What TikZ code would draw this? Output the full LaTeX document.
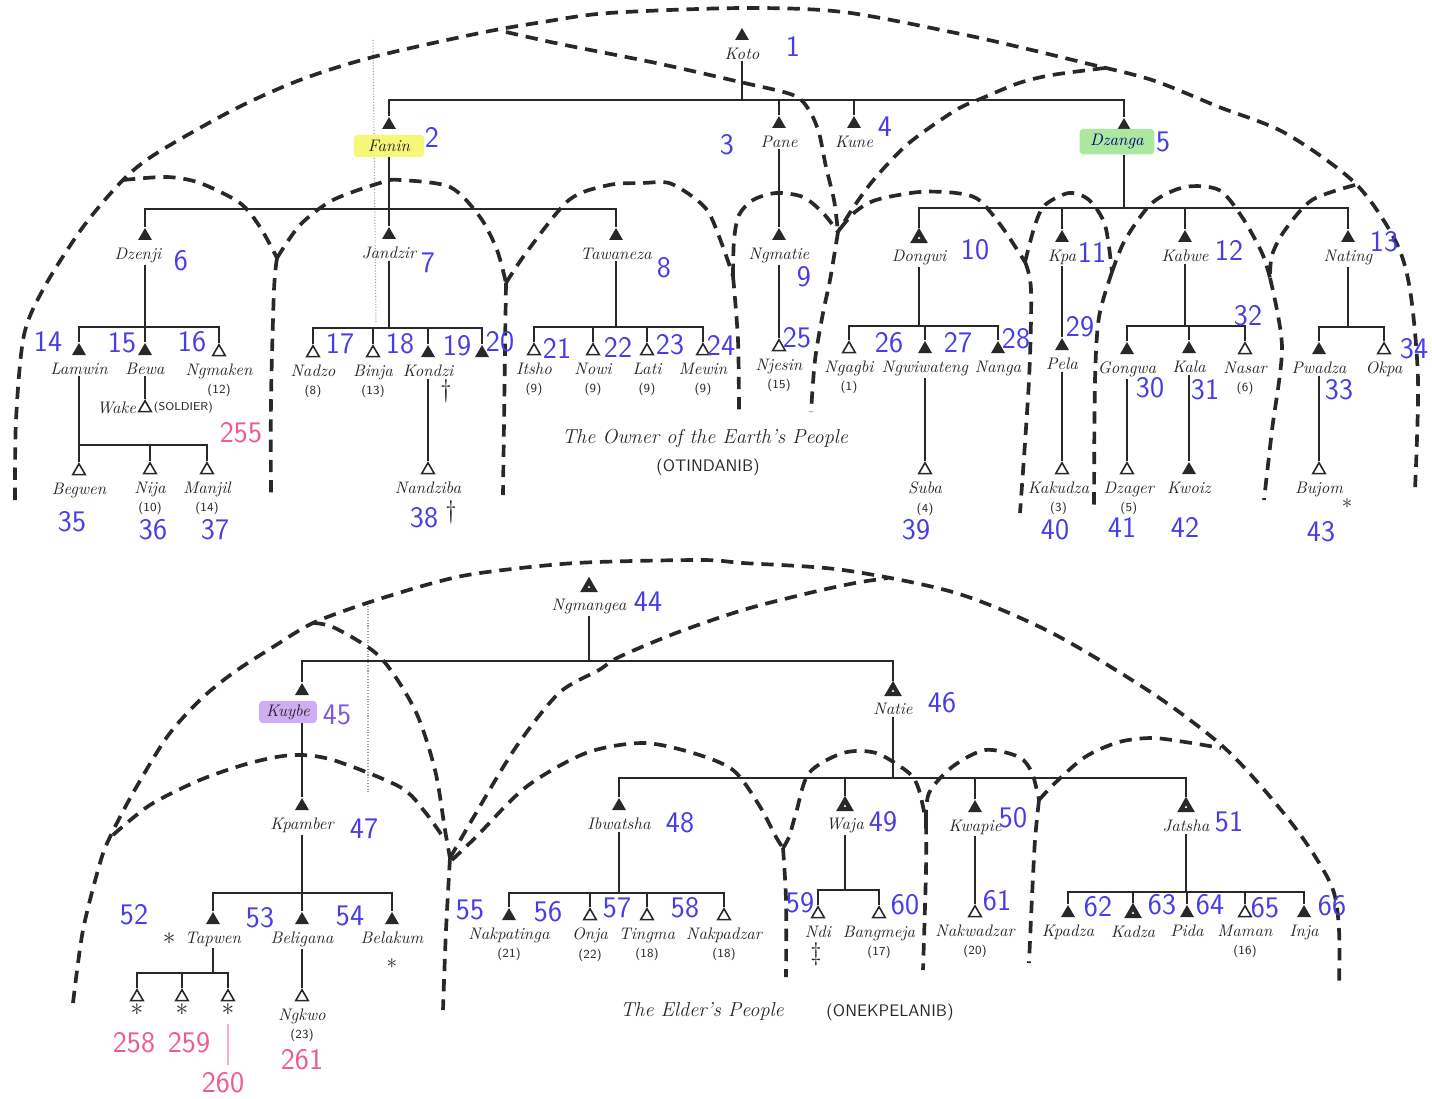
\documentclass[tikz,border=0pt]{standalone}
\usepackage{tikz}
\usetikzlibrary{shapes.geometric,positioning,calc}

\definecolor{ink}{RGB}{40,40,40}
\definecolor{numblue}{RGB}{72,60,228}
\definecolor{numpurple}{RGB}{128,88,222}
\definecolor{numpink}{RGB}{238,92,140}
\definecolor{hlyellow}{RGB}{246,246,120}
\definecolor{hlgreen}{RGB}{170,232,160}
\definecolor{hlpurple}{RGB}{208,172,242}

\newcommand{\agenum}[1]{{\upshape\sffamily\fontsize{7}{8}\selectfont(#1)}}
\newcommand{\kin}[5][]{%
  \node[#4] (#2) at (#3) {};
  \node[kname, below=3pt of #2, #1] (#2-l) {#5};}
\newcommand{\sibbar}[4]{%
  \coordinate (#1-bar) at (0,#2);
  \draw[kline] (#1 |- #1-l.south) -- (#1 |- #1-bar);
  \draw[kline] (#3.north) |- (#1-bar -| #4) -- (#4.north);}

\begin{document}
\begin{tikzpicture}[x=0.02cm, y=-0.02cm,
  mtri/.style={regular polygon, regular polygon sides=3, fill=ink, inner sep=0pt, minimum size=0.32cm},
  otri/.style={regular polygon, regular polygon sides=3, draw=ink, fill=white, line width=0.9pt, inner sep=0pt, minimum size=0.29cm},
  htri/.style={regular polygon, regular polygon sides=3, draw=ink, fill=white, line width=2.4pt, inner sep=0pt, minimum size=0.24cm},
  kname/.style={font=\itshape\fontsize{9.5}{10.5}\selectfont, text=ink, inner sep=1pt, align=center},
  kline/.style={draw=ink, line width=1pt},
  sect/.style={draw=ink, line width=2.1pt, dash pattern=on 7pt off 4.5pt},
  bnum/.style={text=numblue, font=\sffamily\fontsize{17}{17}\selectfont, inner sep=0pt},
  pnum/.style={bnum, text=numpink},
  sym/.style={text=ink, inner sep=0pt, font=\Large},
  hnote/.style={text=ink, inner sep=1pt, font=\sffamily\fontsize{6.5}{7}\selectfont},
  ttl/.style={text=ink, font=\itshape\fontsize{11.5}{13}\selectfont},
  capsl/.style={text=ink, font=\sffamily\fontsize{9.5}{10}\selectfont}]

\useasboundingbox (0,0) rectangle (1432,1098);

% faint scan marks
\draw[ink!45, densely dotted, line width=0.6pt] (373,40) -- (376,322);
\draw[ink!45, densely dotted, line width=0.6pt] (368,603) -- (368,793);

% sections, upper tree
\draw[sect] plot[smooth] coordinates {(15,500) (16,420) (24,335) (45,286) (83,227) (123,180) (157,153) (233,110) (300,80) (373,57) (480,33) (543,22) (609,13) (743,8) (843,12) (956,33) (1019,47) (1085,63) (1152,80) (1219,107) (1285,133) (1355,183) (1395,240) (1410,290) (1418,380) (1415,490)};
\draw[sect] plot[smooth] coordinates {(506,32) (560,44) (656,63) (740,82) (793,95) (809,110) (819,133) (826,167) (834,200) (838,232)};
\draw[sect] plot[smooth] coordinates {(1105,68) (1052,75) (1019,83) (985,97) (956,110) (909,143) (876,177) (855,205) (838,232)};
\draw[sect] plot[smooth] coordinates {(838,232) (830,280) (823,313) (815,360) (811,412)};
\draw[sect] plot[smooth] coordinates {(733,276) (734,240) (739,215) (753,200) (776,193) (803,197) (823,213) (838,232)};
\draw[sect] plot[smooth] coordinates {(506,283) (526,253) (569,200) (609,185) (643,183) (669,183) (693,197) (709,213) (723,247) (733,276)};
\draw[sect] plot[smooth] coordinates {(733,276) (738,340) (739,410)};
\draw[sect] plot[smooth] coordinates {(277,258) (300,225) (333,200) (383,182) (400,180) (450,187) (480,217) (497,250) (506,283)};
\draw[sect] plot[smooth] coordinates {(123,180) (167,177) (200,183) (240,203) (260,227) (277,258)};
\draw[sect] plot[smooth] coordinates {(277,258) (274,290) (271,400) (271,500)};
\draw[sect] plot[smooth] coordinates {(506,283) (505,350) (503,495)};
\draw[sect] plot[smooth] coordinates {(840,229) (855,212) (876,200) (919,192) (956,193) (979,200) (1002,227) (1025,262)};
\draw[sect] plot[smooth] coordinates {(1025,262) (1031,290) (1029,380) (1020,513)};
\draw[sect] plot[smooth] coordinates {(1025,262) (1035,225) (1045,205) (1069,193) (1089,200) (1105,225) (1112,272)};
\draw[sect] plot[smooth] coordinates {(1112,272) (1125,240) (1152,203) (1185,187) (1219,190) (1242,217) (1262,253) (1270,278)};
\draw[sect] plot[smooth] coordinates {(1112,272) (1099,317) (1095,380) (1094,507)};
\draw[sect] plot[smooth] coordinates {(1355,185) (1312,200) (1285,230) (1272,255) (1270,278)};
\draw[sect] plot[smooth] coordinates {(1270,278) (1282,347) (1272,430) (1264,500)};

% sections, lower tree
\draw[sect] plot[smooth] coordinates {(73,1003) (83,930) (100,863) (110,837) (133,793) (167,737) (200,700) (233,673) (273,647) (313,623) (367,603) (433,583) (480,573) (576,563) (700,560) (743,563) (843,570) (956,593) (1052,633) (1152,693) (1219,743) (1260,785) (1302,837) (1332,887) (1339,930) (1339,987)};
\draw[sect] plot[smooth] coordinates {(313,623) (335,628) (380,657) (415,710) (435,770) (445,830) (450,858)};
\draw[sect] plot[smooth] coordinates {(113,835) (150,805) (200,780) (250,763) (293,755) (333,760) (400,787) (425,812) (445,840)};
\draw[sect] plot[smooth] coordinates {(450,858) (446,930) (443,1010)};
\draw[sect] plot[smooth] coordinates {(450,858) (476,813) (516,747) (559,693) (599,670) (619,657) (676,633) (743,610) (809,593) (855,583) (888,578)};
\draw[sect] plot[smooth] coordinates {(452,860) (476,837) (526,787) (586,753) (643,743) (693,753) (733,770) (759,805) (776,837) (783,848)};
\draw[sect] plot[smooth] coordinates {(783,848) (789,837) (796,813) (809,773) (843,753) (876,753) (909,773) (919,790) (926,822)};
\draw[sect] plot[smooth] coordinates {(783,848) (786,900) (786,977)};
\draw[sect] plot[smooth] coordinates {(926,822) (929,793) (952,767) (985,750) (1019,757) (1032,773) (1039,800)};
\draw[sect] plot[smooth] coordinates {(926,822) (926,870) (923,970)};
\draw[sect] plot[smooth] coordinates {(1039,800) (1055,783) (1085,757) (1119,742) (1152,738) (1185,742) (1221,748)};
\draw[sect] plot[smooth] coordinates {(1039,800) (1035,840) (1032,897) (1029,963)};

% upper tree
\kin{koto}{742,36}{mtri}{Koto}
\kin[fill=hlyellow, rounded corners=2pt, inner xsep=8pt, inner ysep=3pt]{fanin}{389,125}{mtri}{Fanin}
\kin{pane}{779,124}{mtri}{Pane}
\kin{kune}{854,124}{mtri}{Kune}
\kin[fill=hlgreen, rounded corners=2pt, inner xsep=6pt, inner ysep=3pt, xshift=-4pt, yshift=4pt, text=blue!45!black]{dzanga}{1124,126}{mtri}{Dzanga}
\sibbar{koto}{100}{fanin}{dzanga}
\foreach \c in {pane,kune} {\draw[kline] (\c.north) -- (\c |- koto-bar);}

\kin[xshift=-4pt]{dzenji}{145,236}{mtri}{Dzenji}
\kin{jandzir}{389,235}{mtri}{Jandzir}
\kin{tawaneza}{616,236}{mtri}{Tawaneza}
\sibbar{fanin}{209}{dzenji}{tawaneza}
\draw[kline] (jandzir.north) -- (jandzir |- fanin-bar);

\kin{ngmatie}{779,236}{mtri}{Ngmatie}
\draw[kline] (pane |- pane-l.south) -- (ngmatie.north);

\kin{dongwi}{919,238}{htri}{Dongwi}
\kin{kpa}{1062,238}{mtri}{Kpa}
\kin{kabwe}{1185,238}{mtri}{Kabwe}
\kin{nating}{1348,238}{mtri}{Nating}
\sibbar{dzanga}{208}{dongwi}{nating}
\foreach \c in {kpa,kabwe} {\draw[kline] (\c.north) -- (\c |- dzanga-bar);}

\kin{lamwin}{79,351}{mtri}{Lamwin}
\kin{bewa}{145,351}{mtri}{Bewa}
\kin{ngmaken}{219,352}{otri}{Ngmaken\\\agenum{12}}
\sibbar{dzenji}{327}{lamwin}{ngmaken}
\draw[kline] (bewa.north) -- (bewa |- dzenji-bar);

\node[otri] (wake) at (145,408) {};
\node[kname, left=1pt of wake] (wake-l) {Wake};
\node[hnote, right=1pt of wake] (wake-r) {(SOLDIER)};
\draw[kline] (bewa |- bewa-l.south) -- (wake.north);

\kin{begwen}{79,471}{otri}{Begwen}
\kin{nija}{150,470}{otri}{Nija\\\agenum{10}}
\kin{manjil}{207,470}{otri}{Manjil\\\agenum{14}}
\sibbar{lamwin}{445}{begwen}{manjil}
\draw[kline] (nija.north) -- (nija |- lamwin-bar);

\kin{nadzo}{313,353}{otri}{Nadzo\\\agenum{8}}
\kin{binja}{373,353}{otri}{Binja\\\agenum{13}}
\kin{kondzi}{428,353}{mtri}{Kondzi}
\node[mtri] (kid20) at (482,353) {};
\sibbar{jandzir}{328}{nadzo}{kid20}
\foreach \c in {binja,kondzi} {\draw[kline] (\c.north) -- (\c |- jandzir-bar);}
\node[sym] (kondzi-d) at (446,391) {\dag};
\kin{nandziba}{428,470}{otri}{Nandziba}
\node[sym] (nandziba-d) at (451,512) {\dag};
\draw[kline] (kondzi |- kondzi-l.south) -- (nandziba.north);

\kin{itsho}{534,351}{otri}{Itsho\\\agenum{9}}
\kin{nowi}{593,351}{otri}{Nowi\\\agenum{9}}
\kin{lati}{647,351}{otri}{Lati\\\agenum{9}}
\kin{mewin}{703,351}{otri}{Mewin\\\agenum{9}}
\sibbar{tawaneza}{327}{itsho}{mewin}
\foreach \c in {nowi,lati} {\draw[kline] (\c.north) -- (\c |- tawaneza-bar);}

\kin{njesin}{779,347}{otri}{Njesin\\\agenum{15}}
\draw[kline] (ngmatie |- ngmatie-l.south) -- (njesin.north);

\kin{ngagbi}{849,349}{otri}{Ngagbi\\\agenum{1}}
\kin{ngwiwateng}{925,349}{mtri}{Ngwiwateng}
\kin{nanga}{998,349}{mtri}{Nanga}
\sibbar{dongwi}{326}{ngagbi}{nanga}
\draw[kline] (ngwiwateng.north) -- (ngwiwateng |- dongwi-bar);
\kin{suba}{925,470}{otri}{Suba\\\agenum{4}}
\draw[kline] (ngwiwateng |- ngwiwateng-l.south) -- (suba.north);

\kin{pela}{1062,346}{mtri}{Pela}
\draw[kline] (kpa |- kpa-l.south) -- (pela.north);
\kin[xshift=-2pt]{kakudza}{1062,470}{otri}{Kakudza\\\agenum{3}}
\draw[kline] (pela |- pela-l.south) -- (kakudza.north);

\kin{gongwa}{1127,350}{mtri}{Gongwa}
\kin{kala}{1189,349}{mtri}{Kala}
\kin{nasar}{1245,350}{otri}{Nasar\\\agenum{6}}
\sibbar{kabwe}{326}{gongwa}{nasar}
\draw[kline] (kala.north) -- (kala |- kabwe-bar);
\kin[xshift=1pt]{dzager}{1127,470}{otri}{Dzager\\\agenum{5}}
\draw[kline] (gongwa |- gongwa-l.south) -- (dzager.north);
\kin{kwoiz}{1189,470}{mtri}{Kwoiz}
\draw[kline] (kala |- kala-l.south) -- (kwoiz.north);

\kin{pwadza}{1319,350}{mtri}{Pwadza}
\kin{okpa}{1384,350}{otri}{Okpa}
\sibbar{nating}{327}{pwadza}{okpa}
\kin{bujom}{1319,470}{otri}{Bujom}
\node[sym, font=\large, right=-2pt of bujom-l.south east, anchor=north west] (bujom-s) {$\ast$};
\draw[kline] (pwadza |- pwadza-l.south) -- (bujom.north);

\node[ttl] (owner) at (705,438) {The Owner of the Earth's People};
\node[capsl] (otindanib) at (708,467) {(OTINDANIB)};

% lower tree
\kin{ngmangea}{589,587}{htri}{Ngmangea}
\kin[fill=hlpurple, rounded corners=2pt, inner xsep=4pt, inner ysep=2pt, xshift=-8pt]{kuybe}{302,691}{mtri}{Kuybe}
\kin{natie}{893,691}{htri}{Natie}
\sibbar{ngmangea}{661}{kuybe}{natie}

\kin{kpamber}{302,806}{mtri}{Kpamber}
\draw[kline] (kuybe |- kuybe-l.south) -- (kpamber.north);

\kin{ibwatsha}{619,806}{mtri}{Ibwatsha}
\kin{waja}{845,806}{htri}{Waja}
\kin{kwapie}{975,808}{mtri}{Kwapie}
\kin{jatsha}{1186,807}{htri}{Jatsha}
\sibbar{natie}{778}{ibwatsha}{jatsha}
\foreach \c in {waja,kwapie} {\draw[kline] (\c.north) -- (\c |- natie-bar);}

\kin{tapwen}{213,920}{mtri}{Tapwen}
\kin{beligana}{302,920}{mtri}{Beligana}
\kin{belakum}{392,920}{mtri}{Belakum}
\sibbar{kpamber}{893}{tapwen}{belakum}
\draw[kline] (beligana.north) -- (beligana |- kpamber-bar);
\node[sym, left=4pt of tapwen-l] (tapwen-s) {$\ast$};
\node[sym, font=\large, below=7pt of belakum-l] (belakum-s) {$\ast$};

\node[otri] (c258) at (137,997) {};
\node[otri] (c259) at (182,997) {};
\node[otri] (c260) at (228,997) {};
\foreach \c in {c258,c259,c260} {\node[sym, below=1pt of \c] (\c-s) {$\ast$};}
\coordinate (tapwen-bar) at (0,973);
\draw[kline] (tapwen |- tapwen-l.south) -- (tapwen |- tapwen-bar);
\draw[kline] (c258.north) |- (tapwen-bar -| c260) -- (c260.north);
\draw[kline] (c259.north) -- (c259 |- tapwen-bar);

\kin{ngkwo}{302,997}{otri}{Ngkwo\\\agenum{23}}
\draw[kline] (beligana |- beligana-l.south) -- (ngkwo.north);

\kin{nakpatinga}{509,916}{mtri}{Nakpatinga\\\agenum{21}}
\kin{onja}{590,916}{otri}{Onja\\\agenum{22}}
\kin{tingma}{647,916}{otri}{Tingma\\\agenum{18}}
\kin{nakpadzar}{724,916}{otri}{Nakpadzar\\\agenum{18}}
\sibbar{ibwatsha}{893}{nakpatinga}{nakpadzar}
\foreach \c in {onja,tingma} {\draw[kline] (\c.north) -- (\c |- ibwatsha-bar);}

\kin{ndi}{818,914}{otri}{Ndi}
\kin{bangmeja}{879,914}{otri}{Bangmeja\\\agenum{17}}
\sibbar{waja}{890}{ndi}{bangmeja}
\node[sym] (ndi-s) at (816,954) {\ddag};

\kin{nakwadzar}{975,913}{otri}{Nakwadzar\\\agenum{20}}
\draw[kline] (kwapie |- kwapie-l.south) -- (nakwadzar.north);

\kin{kpadza}{1068,913}{mtri}{Kpadza}
\kin{kadza}{1133,913}{htri}{Kadza}
\kin{pida}{1187,913}{mtri}{Pida}
\kin{maman}{1245,913}{otri}{Maman\\\agenum{16}}
\kin{inja}{1304,913}{mtri}{Inja}
\sibbar{jatsha}{892}{kpadza}{inja}
\foreach \c in {kadza,pida,maman} {\draw[kline] (\c.north) -- (\c |- jatsha-bar);}

\node[ttl] (elder) at (702,1011) {The Elder's People};
\node[capsl] (onekpelanib) at (890,1012) {(ONEKPELANIB)};

% handwritten numbers
\foreach \n/\x/\y in {1/793/46, 2/432/137, 3/727/145, 4/885/127, 5/1163/142, 6/181/261, 7/428/263, 8/664/268, 9/804/277, 10/975/250, 11/1092/252, 12/1229/250, 13/1384/242, 14/48/341, 15/122/343, 16/192/342, 17/340/344, 18/400/344, 19/457/346, 20/500/342, 21/557/348, 22/618/347, 23/670/345, 24/721/345, 25/797/338, 26/889/343, 27/958/343, 28/1016/339, 29/1080/327, 30/1150/388, 31/1205/390, 32/1248/316, 33/1339/390, 34/1414/349, 35/72/522, 36/153/530, 37/215/530, 38/424/518, 39/916/530, 40/1055/530, 41/1122/527, 42/1185/527, 43/1321/532, 44/648/602, 46/942/703, 47/364/829, 48/680/823, 49/883/822, 50/1013/818, 51/1229/822, 52/134/915, 53/260/918, 54/350/916, 55/470/910, 56/548/912, 57/617/908, 58/685/908, 59/800/903, 60/905/905, 61/997/901, 62/1098/907, 63/1162/905, 64/1210/905, 65/1265/908, 66/1332/906}
  {\node[bnum] (n\n) at (\x,\y) {\n};}
\node[bnum, text=numpurple] (n45) at (337,715) {45};
\foreach \n/\x/\y in {255/241/433, 258/134/1043, 259/189/1043, 260/223/1083, 261/302/1060}
  {\node[pnum] (n\n) at (\x,\y) {\n};}
\draw[numpink!50, line width=1.2pt, shorten <=5pt, shorten >=4pt] (c260-s.south) -- (c260-s.south |- n260.north);

\end{tikzpicture}
\end{document}
